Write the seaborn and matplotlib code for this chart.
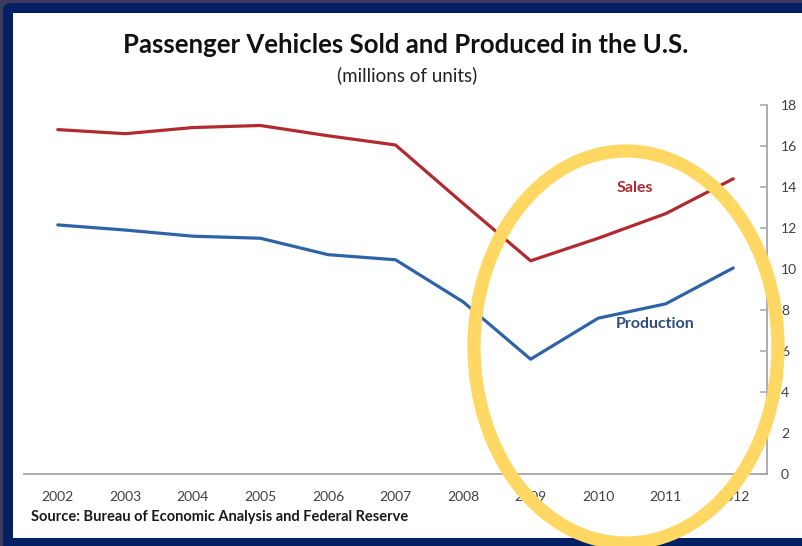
import matplotlib
matplotlib.use("Agg")
import matplotlib.pyplot as plt
import matplotlib.patches as mpatches
import seaborn as sns
import pandas as pd

years = ["2002", "2003", "2004", "2005", "2006", "2007", "2008", "2009", "2010", "2011", "2012"]
sales = [16.8, 16.6, 16.9, 17.0, 16.5, 16.05, 13.2, 10.4, 11.5, 12.7, 14.4]
production = [12.15, 11.9, 11.6, 11.5, 10.7, 10.45, 8.4, 5.6, 7.6, 8.3, 10.05]
y_ticks = [0, 2, 4, 6, 8, 10, 12, 14, 16, 18]

title = "Passenger Vehicles Sold and Produced in the U.S."
subtitle = "(millions of units)"
source = "Source: Bureau of Economic Analysis and Federal Reserve"

RED = "#B02A30"
BLUE = "#2E63A7"

sns.set_style("white")
plt.rcParams["font.family"] = ["Lato", "DejaVu Sans"]

df = pd.DataFrame({
    "x": list(range(len(years))) * 2,
    "value": sales + production,
    "series": ["Sales"] * len(years) + ["Production"] * len(years),
})

W, H = 802, 546
fig = plt.figure(figsize=(W / 100, H / 100), dpi=100)
fig.patch.set_facecolor("#3d3b5e")

def fx(px):
    return px / W

def fy(py):
    return 1 - py / H

navy = mpatches.FancyBboxPatch((fx(3), -0.1), 1.2, fy(3) + 0.1,
                               boxstyle="round,pad=0,rounding_size=0.012",
                               transform=fig.transFigure, facecolor="#022063",
                               edgecolor="none", zorder=-3)
fig.add_artist(navy)
white = mpatches.Rectangle((fx(13), fy(538)), 1.0, fy(13) - fy(538),
                           transform=fig.transFigure, facecolor="white",
                           edgecolor="none", zorder=-2)
fig.add_artist(white)

ax = fig.add_axes([fx(24), fy(474), fx(767) - fx(24), fy(105) - fy(474)])
ax.set_facecolor("none")
sns.lineplot(data=df, x="x", y="value", hue="series",
             palette={"Sales": RED, "Production": BLUE},
             linewidth=2.3, ax=ax, legend=False)

ax.set_xlim(-0.5, len(years) - 0.5)
ax.set_ylim(0, 18)
ax.set_xticks(range(len(years)))
ax.set_xticklabels(years)
ax.set_yticks(y_ticks)
ax.set_yticklabels([str(v) for v in y_ticks])
ax.yaxis.tick_right()
ax.set_xlabel("")
ax.set_ylabel("")

for s in ["left", "top"]:
    ax.spines[s].set_visible(False)
for s in ["right", "bottom"]:
    ax.spines[s].set_visible(True)
    ax.spines[s].set_color("#A6A6A6")
    ax.spines[s].set_linewidth(1.3)

ax.tick_params(axis="y", direction="in", length=5, width=1.1, color="#A6A6A6",
               pad=10, labelsize=10, labelcolor="#404040", right=True, left=False)
ax.tick_params(axis="x", length=0, pad=12, labelsize=10, labelcolor="#404040")

ax.text(8.55, 13.95, "Sales", color=RED, fontsize=11.5, fontweight="bold",
        ha="center", va="center")
ax.text(8.85, 7.3, "Production", color="#2F4C80", fontsize=11.5, fontweight="bold",
        ha="center", va="center")

fig.text(fx(406), fy(45), title, ha="center", va="center", fontsize=18.5,
         fontweight="bold", color="#111111")
fig.text(fx(407), fy(75), subtitle, ha="center", va="center", fontsize=13.5,
         color="#222222")
fig.text(fx(31), fy(517), source, ha="left", va="center", fontsize=10.5,
         fontweight="bold", color="#1a1a1a")

ell = mpatches.Ellipse((fx(626), fy(347)), 304 / W, 392 / H,
                       transform=fig.transFigure, facecolor="none",
                       edgecolor="#FFD763", linewidth=9.5, zorder=20,
                       clip_on=False)
fig.add_artist(ell)

fig.savefig("out.png", dpi=100)
